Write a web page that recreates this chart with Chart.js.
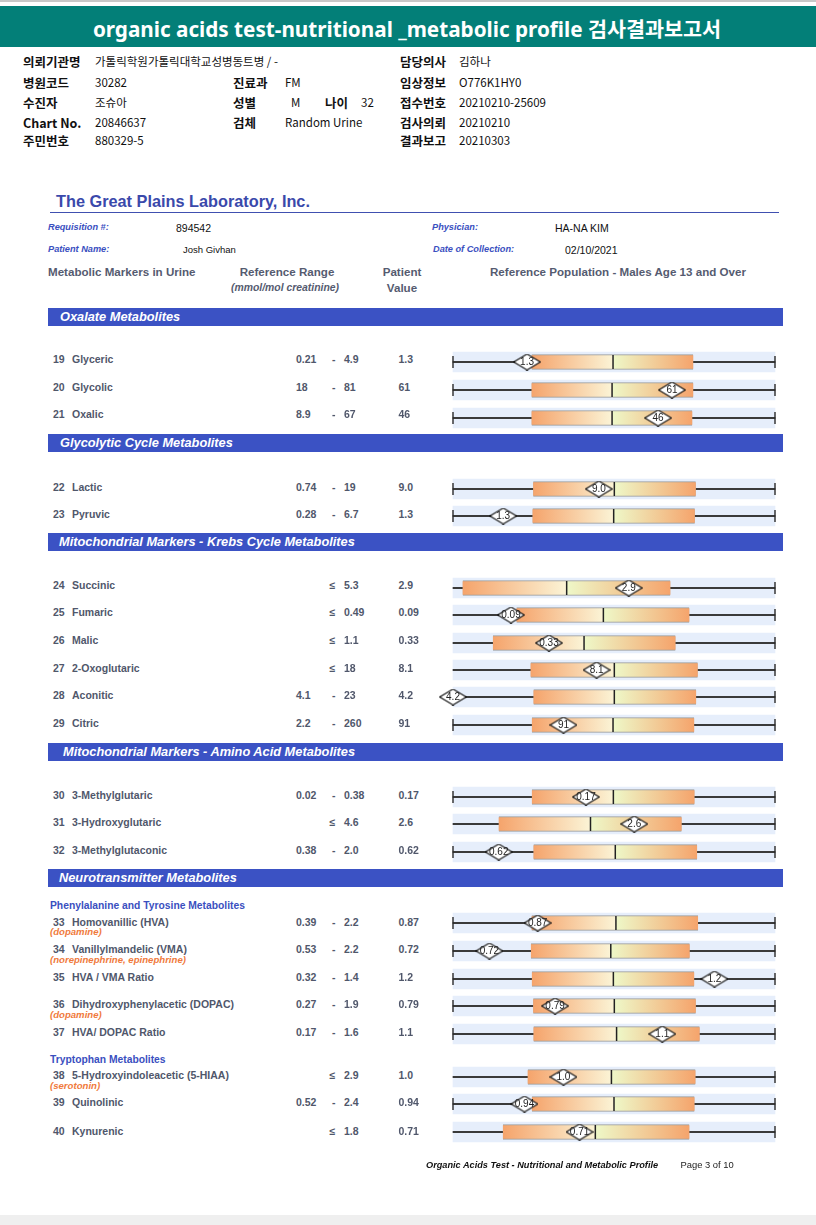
<!DOCTYPE html>
<html><head><meta charset="utf-8">
<script src="https://cdn.jsdelivr.net/npm/chart.js@4.4.1/dist/chart.umd.min.js"></script>
<style>
html,body{margin:0;padding:0;background:#fff}
body{width:816px;height:1225px;position:relative;overflow:hidden;font-family:"Liberation Sans",Arial,sans-serif}
.t{position:absolute;white-space:nowrap;line-height:1;transform:translateY(-50%)}
.c{transform:translate(-50%,-50%)}
.kr{font-family:"Noto Sans CJK KR","Noto Sans",sans-serif;color:#111}
.krl{font-weight:bold;font-size:12.5px}
.krv{font-size:11.5px}
.hdr{font-weight:bold;font-size:11.6px;color:#555b70}
.lbl{font-weight:bold;font-style:italic;font-size:9.2px;color:#3a4fbf}
.val{font-size:10.5px;color:#111}
.row{font-weight:bold;font-size:10.5px;color:#50576b}
.note{font-weight:bold;font-style:italic;font-size:9.6px;color:#f07a3c}
.sub{font-weight:bold;font-size:10.3px;color:#3a4fbf}
.sec{position:absolute;left:48px;width:735px;height:18px;background:#3b52c4}
.sect{font-weight:bold;font-style:italic;font-size:12.8px;color:#fff}
canvas.plot{position:absolute}
</style></head><body>
<div style="position:absolute;left:0;top:0;width:816px;height:2px;background:#c8c8c8"></div>
<div style="position:absolute;left:0;top:6px;width:816px;height:41px;background:#037f78"></div>
<div id="page"></div>
<div style="position:absolute;left:0;top:1215px;width:816px;height:10px;background:#efefef"></div>
<script>
// ---------- DATA ----------
const reportTitle = "organic acids test-nutritional _metabolic profile 검사결과보고서";
const sectionTitles = ["Oxalate Metabolites", "Glycolytic Cycle Metabolites", "Mitochondrial Markers - Krebs Cycle Metabolites", "Mitochondrial Markers - Amino Acid Metabolites", "Neurotransmitter Metabolites"];
const subgroupTitles = ["Phenylalanine and Tyrosine Metabolites", "Tryptophan Metabolites"];
const markerNo = [19,20,21,22,23,24,25,26,27,28,29,30,31,32,33,34,35,36,37,38,39,40];
const markerNames = ["Glyceric","Glycolic","Oxalic","Lactic","Pyruvic","Succinic","Fumaric","Malic","2-Oxoglutaric","Aconitic","Citric","3-Methylglutaric","3-Hydroxyglutaric","3-Methylglutaconic","Homovanillic (HVA)","Vanillylmandelic (VMA)","HVA / VMA Ratio","Dihydroxyphenylacetic (DOPAC)","HVA/ DOPAC Ratio","5-Hydroxyindoleacetic (5-HIAA)","Quinolinic","Kynurenic"];
const markerNotes = ["","","","","","","","","","","","","","","(dopamine)","(norepinephrine, epinephrine)","","(dopamine)","","(serotonin)","",""];
const markerSection = [0,0,0,1,1,2,2,2,2,2,2,3,3,3,4,4,4,4,4,4,4,4];
const refLow = ["0.21","18","8.9","0.74","0.28","","","","","4.1","2.2","0.02","","0.38","0.39","0.53","0.32","0.27","0.17","","0.52",""];
const refHigh = ["4.9","81","67","19","6.7","5.3","0.49","1.1","18","23","260","0.38","4.6","2.0","2.2","2.2","1.4","1.9","1.6","2.9","2.4","1.8"];
const patientValue = ["1.3","61","46","9.0","1.3","2.9","0.09","0.33","8.1","4.2","91","0.17","2.6","0.62","0.87","0.72","1.2","0.79","1.1","1.0","0.94","0.71"];
// reference population graphic, on a 0-100 display scale (whisker ends at 0 and 100)
const boxLow    = [24.5,24.5,24.5,25.0,24.8, 3.1,19.8,12.5,24.2,25.1,24.6,24.6,14.3,25.1,24.5,24.3,24.6,25.0,25.1,23.3,24.6,15.6];
const boxMedian = [49.7,49.4,49.4,50.1,49.9,35.3,46.7,40.7,50.1,50.1,49.7,49.8,42.7,50.4,50.6,49.0,49.8,50.1,50.8,49.2,50.0,44.2];
const boxHigh   = [74.5,74.5,74.2,75.3,75.0,67.4,73.3,69.0,75.9,75.4,74.8,74.9,70.9,75.7,76.0,73.4,74.8,75.3,76.5,75.2,74.9,73.3];
const patientPos= [23.0,68.0,63.7,45.3,15.6,54.6,18.0,29.8,44.6, 0.0,34.3,41.3,56.3,14.2,26.3,11.3,81.2,31.7,65.0,34.3,22.2,39.3];

// ---------- LAYOUT (positions only) ----------
const sectionTop = [308,434,533,742.5,869];
const sectionTextX = [60,60,59,63,59];
const subgroupY = [905.5,1059.5];
const rowTextY = [359.3,387.3,414.3,486.7,514,585,612.3,640.3,668.3,695.3,723.3,794.7,822.3,849.7,921.7,949,976.7,1004.3,1031.7,1075,1102.3,1130.7];
const plotY = [362,390,417.5,488.5,516,587.5,614.7,642.7,670,697.3,725.3,796.7,824.3,851.7,923.3,951,978.7,1006,1034,1076.7,1104.3,1132.3];
const plotLeft = 436, plotWidth = 356, plotHeight = 30, axis0 = 453, axis100 = 775;

const page = document.getElementById('page');
function T(x, y, text, cls, extra) {
  const d = document.createElement('div');
  d.className = 't ' + (cls || '');
  d.style.left = x + 'px'; d.style.top = y + 'px';
  if (extra) d.style.cssText += extra;
  d.textContent = text;
  page.appendChild(d);
  return d;
}

// header
T(407, 29, reportTitle, 'c', 'font-family:"Noto Sans","Noto Sans CJK KR",sans-serif;font-weight:bold;font-size:20.7px;color:#fff');
const krRows = [
  [[23,'의뢰기관명','l'],[95,'가톨릭학원가톨릭대학교성병동트병 / -','v'],[400,'담당의사','l'],[459,'김하나','v']],
  [[23,'병원코드','l'],[95,'30282','v'],[233,'진료과','l'],[285,'FM','v'],[400,'임상정보','l'],[459,'O776K1HY0','v']],
  [[23,'수진자','l'],[95,'조슈아','v'],[233,'성별','l'],[291,'M','v'],[325,'나이','l'],[361,'32','v'],[400,'접수번호','l'],[459,'20210210-25609','v']],
  [[23,'Chart No.','l'],[95,'20846637','v'],[233,'검체','l'],[285,'Random Urine','v'],[400,'검사의뢰','l'],[459,'20210210','v']],
  [[23,'주민번호','l'],[95,'880329-5','v'],[400,'결과보고','l'],[459,'20210303','v']]
];
const krY = [62,83,103,123,141];
krRows.forEach((r,i)=>r.forEach(([x,s,k])=>T(x,krY[i],s,'kr '+(k==='l'?'krl':'krv'))));

// lab header
T(56, 201, 'The Great Plains Laboratory, Inc.', '', 'font-weight:bold;font-size:16.3px;color:#3a49ab');
const ln = document.createElement('div');
ln.style.cssText = 'position:absolute;left:50px;top:211.5px;width:729px;height:1.3px;background:#4050b0';
page.appendChild(ln);
T(48, 228, 'Requisition #:', 'lbl'); T(176, 228, '894542', 'val');
T(432, 228, 'Physician:', 'lbl'); T(555, 228, 'HA-NA KIM', 'val');
T(48, 250, 'Patient Name:', 'lbl'); T(183, 250, 'Josh Givhan', 'val', 'font-size:9.5px');
T(433, 250, 'Date of Collection:', 'lbl'); T(565, 250, '02/10/2021', 'val');
T(48, 272, 'Metabolic Markers in Urine', 'hdr');
T(287, 272, 'Reference Range', 'hdr c');
T(285, 288, '(mmol/mol creatinine)', 'hdr c', 'font-style:italic;font-size:10.4px');
T(402, 272, 'Patient', 'hdr c');
T(402, 288, 'Value', 'hdr c');
T(490, 272, 'Reference Population - Males Age 13 and Over', 'hdr');

// sections
sectionTitles.forEach((s,i)=>{
  const b = document.createElement('div');
  b.className = 'sec'; b.style.top = sectionTop[i] + 'px';
  page.appendChild(b);
  T(sectionTextX[i], sectionTop[i] + 9, s, 'sect');
});
subgroupTitles.forEach((s,i)=>T(50, subgroupY[i], s, 'sub'));

// diamond marker shape
function diamondShape() {
  const w = 28, h = 17;
  const c = document.createElement('canvas');
  c.width = w; c.height = h;
  const g = c.getContext('2d');
  g.beginPath();
  g.moveTo(0.7, h/2); g.lineTo(w/2, 0.6); g.lineTo(w-0.7, h/2); g.lineTo(w/2, h-0.6); g.closePath();
  g.fillStyle = '#fff'; g.fill();
  g.lineWidth = 1.2; g.strokeStyle = '#111'; g.stroke();
  return c;
}
const diamondImg = diamondShape();

// draws the patient value label centred on the diamond point
const diamondLabel = {
  id: 'diamondLabel',
  afterDatasetsDraw(chart) {
    const ds = chart.data.datasets;
    ds.forEach((d, di) => {
      if (!d.valueLabel) return;
      const meta = chart.getDatasetMeta(di);
      const p = meta.data[0];
      const c = chart.ctx;
      c.save();
      c.font = '10px "Liberation Sans", Arial, sans-serif';
      c.fillStyle = '#222'; c.textAlign = 'center'; c.textBaseline = 'middle';
      c.fillText(d.valueLabel, p.x, p.y + 0.5);
      c.restore();
    });
  }
};

function grad(ctx, from, to, c1, c2) {
  const ch = ctx.chart;
  if (!ch.chartArea) return c1;
  const xs = ch.scales.x;
  const g = ch.ctx.createLinearGradient(xs.getPixelForValue(from), 0, xs.getPixelForValue(to), 0);
  g.addColorStop(0, c1); g.addColorStop(1, c2);
  return g;
}

const span = axis100 - axis0;
const xMin = -(axis0 - plotLeft) / span * 100;
const xMax = 100 + (plotLeft + plotWidth - axis100) / span * 100;

markerNo.forEach((no, i) => {
  const y = rowTextY[i];
  T(53, y, String(no), 'row');
  T(72, y, markerNames[i], 'row');
  if (markerNotes[i]) T(50, y + 10.5, markerNotes[i], 'note');
  if (refLow[i]) { T(296, y, refLow[i], 'row'); T(332, y, '-', 'row'); }
  else T(329.5, y, '≤', 'row');
  T(344, y, refHigh[i], 'row');
  T(398.5, y, patientValue[i], 'row');

  const cv = document.createElement('canvas');
  cv.className = 'plot';
  cv.style.left = plotLeft + 'px';
  cv.style.top = (plotY[i] - plotHeight/2) + 'px';
  cv.style.width = plotWidth + 'px'; cv.style.height = plotHeight + 'px';
  cv.width = plotWidth; cv.height = plotHeight;
  page.appendChild(cv);

  const caps = refLow[i] ? [{x:0,y:'r'},{x:100,y:'r'}] : [{x:100,y:'r'}];
  const lo = boxLow[i], md = boxMedian[i], hi = boxHigh[i];
  new Chart(cv, {
    type: 'bar',
    data: {
      labels: ['r'],
      datasets: [
        {type:'bar', order:7, data:[[0,100]], backgroundColor:'#e6eefb', barThickness:20, grouped:false, indexAxis:'y'},
        {type:'bar', order:6, data:[[0,100]], backgroundColor:'#3a3a3a', barThickness:1.4, grouped:false, indexAxis:'y'},
        {type:'scatter', order:5, data:caps, pointStyle:'line', rotation:90, radius:6, borderWidth:1.4, borderColor:'#2a2a2a', clip:false},
        {type:'bar', order:4, data:[[lo,hi]], backgroundColor:'rgba(0,0,0,0)', borderColor:'#9a9a9a', borderWidth:1.2, borderSkipped:false, barThickness:15, grouped:false, indexAxis:'y'},
        {type:'bar', order:3, data:[[lo,md]], backgroundColor:ctx=>grad(ctx, lo, md, '#f5a46c', '#fbf4d6'), borderWidth:0, barThickness:13, grouped:false, indexAxis:'y'},
        {type:'bar', order:3, data:[[md,hi]], backgroundColor:ctx=>grad(ctx, md, hi, '#eef8c8', '#f5a46c'), borderWidth:0, barThickness:13, grouped:false, indexAxis:'y'},
        {type:'scatter', order:2, data:[{x:md,y:'r'}], pointStyle:'line', rotation:90, radius:7, borderWidth:1.5, borderColor:'#222', clip:false},
        {type:'scatter', order:1, data:[{x:patientPos[i],y:'r'}], valueLabel:patientValue[i], pointStyle:diamondImg, radius:10, clip:false}
      ]
    },
    options: {
      indexAxis:'y', responsive:false, animation:false, events:[],
      layout:{padding:0, autoPadding:false},
      plugins:{legend:{display:false}, tooltip:{enabled:false}},
      scales:{
        x:{type:'linear', min:xMin, max:xMax, display:false},
        y:{type:'category', labels:['r'], display:false, offset:true}
      }
    },
    plugins:[diamondLabel]
  });
});

// footer
T(426, 1166, 'Organic Acids Test - Nutritional and Metabolic Profile', '', 'font-weight:bold;font-style:italic;font-size:9.2px;color:#111');
T(680.5, 1165, 'Page 3 of 10', '', 'font-size:9.4px;color:#222');
</script>
</body></html>
